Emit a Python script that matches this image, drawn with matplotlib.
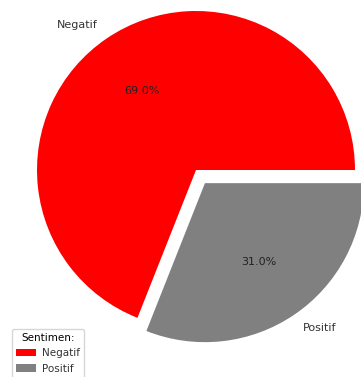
import matplotlib
matplotlib.use('Agg')
import matplotlib.pyplot as plt

labels = ['Negatif', 'Positif']
sizes = [69.0, 31.0]
colors = ['red', 'grey']
explode = [0, 0.1]

W, H = 361, 377
fig = plt.figure(figsize=(W / 100, H / 100), dpi=100)
ax = fig.add_axes([0, 0, 1, 1])

# pie centre and radius in pixels
cx, cy, r = 196, 170, 159

wedges, texts, autotexts = ax.pie(sizes, labels=labels, colors=colors, explode=explode,
                                  autopct='%1.1f%%', startangle=0,
                                  textprops={'fontsize': 8})
for t in texts:
    t.set_color('#333333')
for t in autotexts:
    t.set_color('#222222')

ax.set_aspect('auto')
ax.set_xlim(-cx / r, (W - cx) / r)
ax.set_ylim((cy - H) / r, cy / r)
ax.axis('off')

leg = ax.legend(wedges, labels, title='Sentimen:', loc='upper left',
                bbox_to_anchor=(12 / W, 1 - 329 / H), bbox_transform=fig.transFigure,
                borderaxespad=0, fontsize=7.5, title_fontsize=7.5,
                handlelength=1.9, handletextpad=0.6)
for t in leg.get_texts():
    t.set_color('#333333')

fig.savefig('out.png', dpi=100)
